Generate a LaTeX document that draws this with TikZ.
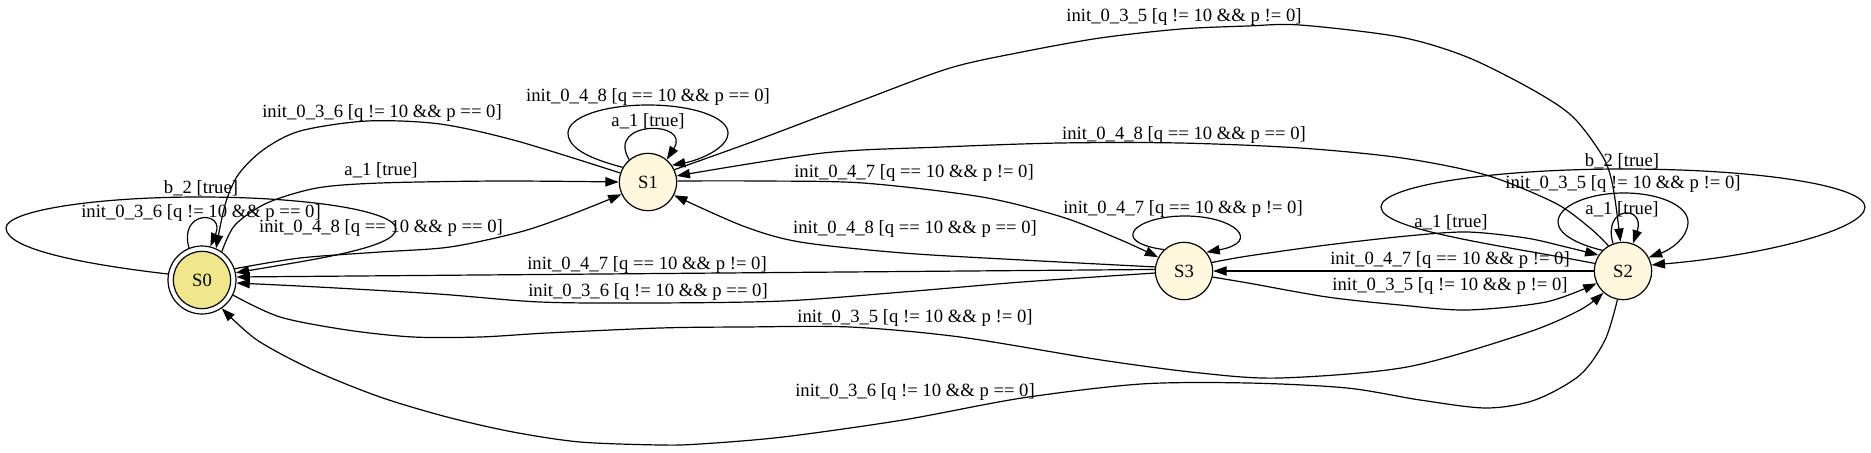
\documentclass[tikz,border=0pt]{standalone}
\usepackage{fontspec}
\setmainfont{Liberation Serif}
\usetikzlibrary{arrows.meta}
\definecolor{nodekhaki}{HTML}{F0E68C}
\definecolor{nodecorn}{HTML}{FFF8DC}
\newcommand\initthreesix{init\_0\_3\_6 [q != 10 \&\& p == 0]}
\newcommand\initthreefive{init\_0\_3\_5 [q != 10 \&\& p != 0]}
\newcommand\initfourseven{init\_0\_4\_7 [q == 10 \&\& p != 0]}
\newcommand\initfoureight{init\_0\_4\_8 [q == 10 \&\& p == 0]}
\begin{document}
\begin{tikzpicture}[x=0.75pt,y=-0.75pt,
 st/.style={circle,draw=black,line width=0.9pt,minimum size=43pt,inner sep=0pt,font=\fontsize{14}{16.8}\selectfont},
 conn/.style={draw=black,line width=0.9pt,-{Triangle[length=10pt,width=7pt]}},
 lab/.style={inner sep=0pt,font=\fontsize{14}{16.8}\selectfont}]
\useasboundingbox (0,0) rectangle (1871,453);
% states
\node[st,minimum size=51pt,fill=white] (S0) at (202,280) {};
\node[st,fill=nodekhaki] (S0i) at (S0.center) {S0};
\node[st,fill=nodecorn] (S1) at (648,182) {S1};
\node[st,fill=nodecorn] (S3) at (1184,271) {S3};
\node[st,fill=nodecorn] (S2) at (1623,271) {S2};

% S0 loops
\draw[conn] (S0.170) .. controls (90,265) and (6,250) .. (6,228)
  .. controls (6,211) and (93,197) .. (200,197)
  .. controls (308,197) and (396,211) .. (396,229)
  .. controls (396,248) and (310,260) .. (S0.12);
\draw[conn] (S0.112) .. controls (178,210) and (226,210) .. (S0.76);

% S1 loops
\draw[conn] (S1.130) .. controls (605,120) and (692,120) .. (S1.50);
\draw[conn] (S1.150) .. controls (595,160) and (568,150) .. (568,133)
  .. controls (568,117) and (604,105) .. (648,105)
  .. controls (692,105) and (728,117) .. (728,133)
  .. controls (728,148) and (700,160) .. (S1.35);

% S3 loop
\draw[conn] (S3.133) .. controls (1108,242) and (1135,216) .. (1185,216)
  .. controls (1235,216) and (1262,242) .. (S3.40);

% S2 loops
\draw[conn] (S2.110) .. controls (1602,205) and (1646,205) .. (S2.70);
\draw[conn] (S2.135) .. controls (1580,245) and (1558,235) .. (1558,222)
  .. controls (1558,206) and (1588,193) .. (1624,193)
  .. controls (1660,193) and (1688,206) .. (1688,222)
  .. controls (1688,238) and (1670,250) .. (S2.28);
\draw[conn] (S2.165) .. controls (1500,245) and (1381,230) .. (1381,207)
  .. controls (1381,186) and (1490,169) .. (1624,169)
  .. controls (1760,169) and (1865,186) .. (1865,207)
  .. controls (1865,230) and (1760,256) .. (S2.12);

% S0 -> S1, S1 -> S0
\draw[conn] plot[smooth] coordinates {(S1.162) (517,141) (440,124) (367,121) (300,131) (263,150) (238,175) (225,205) (S0.66)};
\draw[conn] plot[smooth] coordinates {(S0.55) (235,225) (267,203) (317,188) (380,183) (500,181) (S1.180)};
\draw[conn] plot[smooth] coordinates {(S0.19) (300,258) (380,252) (450,247) (520,232) (570,215) (S1.205)};

% S3 -> S0
\draw[conn] (S3.177) -- (S0.5);
\draw[conn] plot[smooth] coordinates {(S3.184) (1022,282) (903,292) (783,301) (650,303) (540,302) (438,294) (318,287) (S0.-5)};

% S0 -> S2, S2 -> S0
\draw[conn] plot[smooth] coordinates {(S0.-26) (280,317) (347,330) (413,337) (480,337) (547,333) (660,328) (743,327) (850,327) (960,337) (1101,360) (1200,373) (1280,378) (1407,367) (1526,333) (1580,310) (S2.228)};
\draw[conn] plot[smooth] coordinates {(S2.259) (1605,340) (1580,375) (1535,400) (1486,408) (1420,400) (1347,388) (1248,383) (1141,384) (1022,398) (903,420) (783,437) (700,444) (660,445) (580,442) (513,432) (447,417) (380,397) (313,370) (257,340) (S0.-55)};

% S1 <-> S3
\draw[conn] plot[smooth] coordinates {(S1.2) (760,181) (863,183) (982,197) (1062,217) (1121,240) (S3.152)};
\draw[conn] plot[smooth] coordinates {(S3.172) (1022,260) (903,253) (800,242) (743,226) (S1.-27)};

% S2 -> S1, S1 -> S2
\draw[conn] plot[smooth] coordinates {(S2.120) (1590,228) (1555,203) (1486,175) (1402,158) (1300,148) (1180,143) (1060,143) (942,147) (823,153) (S1.12)};
\draw[conn] plot[smooth] coordinates {(S1.25) (760,139) (863,100) (950,68) (1022,52) (1100,38) (1181,29) (1248,26) (1300,25) (1400,37) (1467,57) (1533,90) (1573,117) (1603,157) (1613,187) (S2.95)};

% S2 <-> S3
\draw[conn] (S2.180) -- (S3.0);
\draw[conn] plot[smooth] coordinates {(S3.17) (1248,256) (1327,245) (1407,236) (1467,232) (1526,238) (1566,247) (S2.147)};
\draw[conn] plot[smooth] coordinates {(S3.-12) (1248,283) (1327,297) (1400,305) (1467,310) (1546,302) (S2.205)};

% labels
\node[lab] (l1) at (201,188) {b\_2 [true]};
\node[lab] (l2) at (201,213) {\initthreesix};
\node[lab] (l3) at (382,113) {\initthreesix};
\node[lab] (l4) at (381,170) {a\_1 [true]};
\node[lab] (l5) at (381,228) {\initfoureight};
\node[lab] (l6) at (647,265) {\initfourseven};
\node[lab] (l7) at (648,292) {\initthreesix};
\node[lab] (l8) at (915,318) {\initthreefive};
\node[lab] (l9) at (915,392) {\initthreesix};
\node[lab] (l10) at (648,97) {\initfoureight};
\node[lab] (l11) at (648,121) {a\_1 [true]};
\node[lab] (l12) at (914,173) {\initfourseven};
\node[lab] (l13) at (915,229) {\initfoureight};
\node[lab] (l14) at (1184,135) {\initfoureight};
\node[lab] (l15) at (1184,17) {\initthreefive};
\node[lab] (l16) at (1183,209) {\initfourseven};
\node[lab] (l17) at (1450,260) {\initfourseven};
\node[lab] (l18) at (1451,222) {a\_1 [true]};
\node[lab] (l19) at (1450,286) {\initthreefive};
\node[lab] (l20) at (1622,161) {b\_2 [true]};
\node[lab] (l21) at (1623,184) {\initthreefive};
\node[lab] (l22) at (1622,209) {a\_1 [true]};
\end{tikzpicture}
\end{document}
